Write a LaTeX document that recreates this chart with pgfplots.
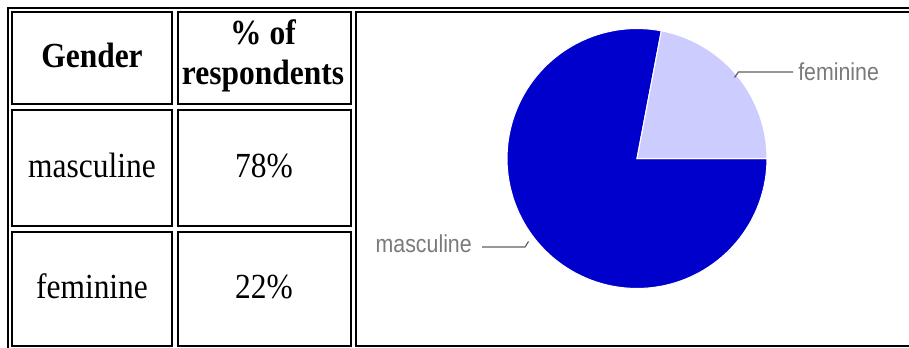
\documentclass[border=0pt]{standalone}
\usepackage{pgfplots}
\pgfplotsset{compat=1.18}
\usepackage{pgfplotstable}
\usepackage{graphicx}
\usepackage{fontspec}
\setmainfont{Liberation Serif}
\newfontfamily\arial{Liberation Sans}
\definecolor{mblue}{HTML}{0000CC}
\definecolor{flight}{HTML}{CCCCFF}
\definecolor{lblgray}{HTML}{7A7A7A}
\definecolor{leadgray}{HTML}{606060}
\newcommand{\celltxt}[1]{\scalebox{1}[1.12]{\fontsize{23.6}{28}\selectfont #1}}
\pgfplotstableread{
gender value
masculine 78
feminine 22
}\piedata
\begin{document}
\pgfplotstablegetelem{0}{value}\of\piedata \pgfmathsetmacro\mval{\pgfplotsretval}%
\pgfplotstablegetelem{1}{value}\of\piedata \pgfmathsetmacro\fval{\pgfplotsretval}%
\pgfmathsetmacro\fang{3.6*\fval}%
\pgfmathtruncatemacro\mint{\mval}%
\pgfmathtruncatemacro\fint{\fval}%
\begin{tikzpicture}[x=0.75pt,y=0.75pt]
\useasboundingbox (0,0) rectangle (909,347);
\clip (0,0) rectangle (909,347);
% pie (axis centre at pixel (637,158.5))
\begin{axis}[at={(477.75pt,141.375pt)}, anchor=center, width=195pt, height=195pt,
  scale only axis, hide axis, xmin=-1, xmax=1, ymin=-1, ymax=1, clip=false]
\addplot[fill=mblue, draw=white, line width=0.8pt, domain=\fang:360, samples=120, variable=\t]
  ({cos(\t)},{sin(\t)}) -- (axis cs:0,0) -- cycle;
\addplot[fill=flight, draw=white, line width=0.8pt, domain=0:\fang, samples=60, variable=\t]
  ({cos(\t)},{sin(\t)}) -- (axis cs:0,0) -- cycle;
\end{axis}
\begin{scope}[yshift=260.25pt, yscale=-1]
% table borders
\begin{scope}[line width=1.5pt]
\draw (8,420) -- (8,8) -- (960,8);
\draw (12,12) rectangle (172,104);
\draw (178,12) rectangle (350.5,104);
\draw (12,110) rectangle (172,226);
\draw (178,110) rectangle (350.5,226);
\draw (12,232) rectangle (172,346);
\draw (178,232) rectangle (350.5,346);
\draw (355.5,12) rectangle (960,346);
\end{scope}
% table text
\node[anchor=base,inner sep=0pt] at (92,67) {\celltxt{\bfseries Gender}};
\node[anchor=base,inner sep=0pt] at (263,45) {\celltxt{\bfseries \% of}};
\node[anchor=base,inner sep=0pt] at (263,84) {\celltxt{\bfseries respondents}};
\node[anchor=base,inner sep=0pt] at (92,177) {\celltxt{masculine}};
\node[anchor=base,inner sep=0pt] at (264,177) {\celltxt{\mint\%}};
\node[anchor=base,inner sep=0pt] at (92,298) {\celltxt{feminine}};
\node[anchor=base,inner sep=0pt] at (264,298) {\celltxt{\fint\%}};
% leader lines and labels
\draw[leadgray, line width=0.9pt] (734.5,77.5) -- (738.5,72) -- (793,72);
\draw[leadgray, line width=0.9pt] (482,247) -- (525,247) -- (528.5,241.5);
\node[anchor=base west,inner sep=0pt,text=lblgray] at (798,80)
  {\scalebox{1}[1.15]{\arial\fontsize{16}{19}\selectfont feminine}};
\node[anchor=base east,inner sep=0pt,text=lblgray] at (472,252.5)
  {\scalebox{1}[1.15]{\arial\fontsize{16}{19}\selectfont masculine}};
\end{scope}
\end{tikzpicture}
\end{document}
